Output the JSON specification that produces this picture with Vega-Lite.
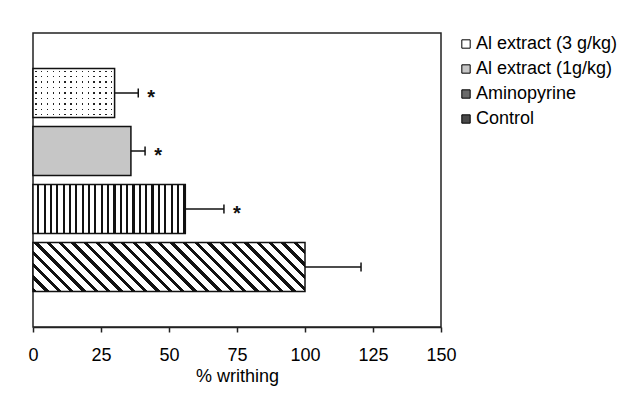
{
  "$schema": "https://vega.github.io/schema/vega-lite/v6.json",
  "width": 408,
  "height": 294,
  "autosize": {"type": "none"},
  "padding": {"left": 33, "top": 33, "right": 189, "bottom": 69},
  "background": "white",
  "config": {
    "font": "Liberation Sans",
    "view": {"stroke": "#222", "strokeWidth": 1.5},
    "axisX": {
      "grid": false, "domainColor": "#222", "domainWidth": 1.5, "tickColor": "#222", "tickWidth": 1.5, "tickSize": 5,
      "labelFontSize": 18, "labelFont": "Liberation Sans", "labelColor": "#000", "labelPadding": 14, "labelFlush": false,
      "titleFontSize": 18, "titleFont": "Liberation Sans", "titleFontWeight": "normal", "titleColor": "#000", "titlePadding": 3
    }
  },
  "data": {"values": [
    {"group": "Al extract (3 g/kg)", "mean": 30, "err": 38.7, "sig": "*"},
    {"group": "Al extract (1g/kg)", "mean": 36, "err": 41.2, "sig": "*"},
    {"group": "Aminopyrine", "mean": 56, "err": 70.2, "sig": "*"},
    {"group": "Control", "mean": 100, "err": 120.6, "sig": ""}
  ]},
  "encoding": {
    "y": {"field": "group", "type": "nominal", "sort": ["Al extract (3 g/kg)", "Al extract (1g/kg)", "Aminopyrine", "Control"], "scale": {"paddingInner": 0.155, "paddingOuter": 0.612}, "axis": null}
  },
  "layer": [
    {
      "mark": {"type": "bar", "strokeWidth": 0},
      "encoding": {
        "x": {"field": "mean", "type": "quantitative", "scale": {"domain": [0, 150], "nice": false}, "axis": {"values": [0, 25, 50, 75, 100, 125, 150]}, "title": "% writhing"},
        "fill": {"field": "group", "type": "nominal", "sort": ["Al extract (3 g/kg)", "Al extract (1g/kg)", "Aminopyrine", "Control"],
          "scale": {"domain": ["Al extract (3 g/kg)", "Al extract (1g/kg)", "Aminopyrine", "Control"], "range": ["#ffffff", "#c6c6c6", "#6a6a6a", "#4a4a4a"]},
          "legend": {"title": null, "orient": "none", "legendX": 424, "legendY": 2, "padding": 0, "symbolType": "square", "symbolSize": 70, "symbolStrokeColor": "#000", "symbolStrokeWidth": 1, "labelFontSize": 18, "labelFont": "Liberation Sans", "labelColor": "#000", "labelLimit": 220, "labelOffset": 1, "rowPadding": 7}}
      }
    },
    {
      "transform": [{"filter": "datum.group === 'Aminopyrine'"}],
      "mark": {"type": "bar", "strokeWidth": 0, "fill": {"gradient": "linear", "x1": 0, "y1": 0, "x2": 1, "y2": 0, "stops": [
        {"offset": 0, "color": "#fff"}, {"offset": 0.0279, "color": "#fff"}, {"offset": 0.0279, "color": "#111"}, {"offset": 0.0417, "color": "#111"},
        {"offset": 0.0417, "color": "#fff"}, {"offset": 0.0696, "color": "#fff"}, {"offset": 0.0696, "color": "#111"}, {"offset": 0.0833, "color": "#111"},
        {"offset": 0.0833, "color": "#fff"}, {"offset": 0.1113, "color": "#fff"}, {"offset": 0.1113, "color": "#111"}, {"offset": 0.125, "color": "#111"},
        {"offset": 0.125, "color": "#fff"}, {"offset": 0.1529, "color": "#fff"}, {"offset": 0.1529, "color": "#111"}, {"offset": 0.1667, "color": "#111"},
        {"offset": 0.1667, "color": "#fff"}, {"offset": 0.1946, "color": "#fff"}, {"offset": 0.1946, "color": "#111"}, {"offset": 0.2083, "color": "#111"},
        {"offset": 0.2083, "color": "#fff"}, {"offset": 0.2363, "color": "#fff"}, {"offset": 0.2363, "color": "#111"}, {"offset": 0.25, "color": "#111"},
        {"offset": 0.25, "color": "#fff"}, {"offset": 0.2779, "color": "#fff"}, {"offset": 0.2779, "color": "#111"}, {"offset": 0.2917, "color": "#111"},
        {"offset": 0.2917, "color": "#fff"}, {"offset": 0.3196, "color": "#fff"}, {"offset": 0.3196, "color": "#111"}, {"offset": 0.3333, "color": "#111"},
        {"offset": 0.3333, "color": "#fff"}, {"offset": 0.3613, "color": "#fff"}, {"offset": 0.3613, "color": "#111"}, {"offset": 0.375, "color": "#111"},
        {"offset": 0.375, "color": "#fff"}, {"offset": 0.4029, "color": "#fff"}, {"offset": 0.4029, "color": "#111"}, {"offset": 0.4167, "color": "#111"},
        {"offset": 0.4167, "color": "#fff"}, {"offset": 0.4446, "color": "#fff"}, {"offset": 0.4446, "color": "#111"}, {"offset": 0.4583, "color": "#111"},
        {"offset": 0.4583, "color": "#fff"}, {"offset": 0.4863, "color": "#fff"}, {"offset": 0.4863, "color": "#111"}, {"offset": 0.5, "color": "#111"},
        {"offset": 0.5, "color": "#fff"}, {"offset": 0.5279, "color": "#fff"}, {"offset": 0.5279, "color": "#111"}, {"offset": 0.5417, "color": "#111"},
        {"offset": 0.5417, "color": "#fff"}, {"offset": 0.5696, "color": "#fff"}, {"offset": 0.5696, "color": "#111"}, {"offset": 0.5833, "color": "#111"},
        {"offset": 0.5833, "color": "#fff"}, {"offset": 0.6113, "color": "#fff"}, {"offset": 0.6113, "color": "#111"}, {"offset": 0.625, "color": "#111"},
        {"offset": 0.625, "color": "#fff"}, {"offset": 0.6529, "color": "#fff"}, {"offset": 0.6529, "color": "#111"}, {"offset": 0.6667, "color": "#111"},
        {"offset": 0.6667, "color": "#fff"}, {"offset": 0.6946, "color": "#fff"}, {"offset": 0.6946, "color": "#111"}, {"offset": 0.7083, "color": "#111"},
        {"offset": 0.7083, "color": "#fff"}, {"offset": 0.7363, "color": "#fff"}, {"offset": 0.7363, "color": "#111"}, {"offset": 0.75, "color": "#111"},
        {"offset": 0.75, "color": "#fff"}, {"offset": 0.7779, "color": "#fff"}, {"offset": 0.7779, "color": "#111"}, {"offset": 0.7917, "color": "#111"},
        {"offset": 0.7917, "color": "#fff"}, {"offset": 0.8196, "color": "#fff"}, {"offset": 0.8196, "color": "#111"}, {"offset": 0.8333, "color": "#111"},
        {"offset": 0.8333, "color": "#fff"}, {"offset": 0.8613, "color": "#fff"}, {"offset": 0.8613, "color": "#111"}, {"offset": 0.875, "color": "#111"},
        {"offset": 0.875, "color": "#fff"}, {"offset": 0.9029, "color": "#fff"}, {"offset": 0.9029, "color": "#111"}, {"offset": 0.9167, "color": "#111"},
        {"offset": 0.9167, "color": "#fff"}, {"offset": 0.9446, "color": "#fff"}, {"offset": 0.9446, "color": "#111"}, {"offset": 0.9583, "color": "#111"},
        {"offset": 0.9583, "color": "#fff"}, {"offset": 0.9863, "color": "#fff"}, {"offset": 0.9863, "color": "#111"}, {"offset": 1, "color": "#111"}
      ]}},
      "encoding": {"x": {"field": "mean", "type": "quantitative", "axis": {"values": [0, 25, 50, 75, 100, 125, 150]}, "title": "% writhing"}}
    },
    {
      "transform": [{"filter": "datum.group === 'Control'"}],
      "mark": {"type": "bar", "strokeWidth": 0, "fill": {"gradient": "linear", "x1": 0, "y1": 1, "x2": 1.143, "y2": 0.7941, "stops": [
        {"offset": 0, "color": "#111"}, {"offset": 0.0135, "color": "#111"}, {"offset": 0.0135, "color": "#fff"}, {"offset": 0.0385, "color": "#fff"},
        {"offset": 0.0385, "color": "#111"}, {"offset": 0.0519, "color": "#111"}, {"offset": 0.0519, "color": "#fff"}, {"offset": 0.0769, "color": "#fff"},
        {"offset": 0.0769, "color": "#111"}, {"offset": 0.0904, "color": "#111"}, {"offset": 0.0904, "color": "#fff"}, {"offset": 0.1154, "color": "#fff"},
        {"offset": 0.1154, "color": "#111"}, {"offset": 0.1288, "color": "#111"}, {"offset": 0.1288, "color": "#fff"}, {"offset": 0.1538, "color": "#fff"},
        {"offset": 0.1538, "color": "#111"}, {"offset": 0.1673, "color": "#111"}, {"offset": 0.1673, "color": "#fff"}, {"offset": 0.1923, "color": "#fff"},
        {"offset": 0.1923, "color": "#111"}, {"offset": 0.2058, "color": "#111"}, {"offset": 0.2058, "color": "#fff"}, {"offset": 0.2308, "color": "#fff"},
        {"offset": 0.2308, "color": "#111"}, {"offset": 0.2442, "color": "#111"}, {"offset": 0.2442, "color": "#fff"}, {"offset": 0.2692, "color": "#fff"},
        {"offset": 0.2692, "color": "#111"}, {"offset": 0.2827, "color": "#111"}, {"offset": 0.2827, "color": "#fff"}, {"offset": 0.3077, "color": "#fff"},
        {"offset": 0.3077, "color": "#111"}, {"offset": 0.3212, "color": "#111"}, {"offset": 0.3212, "color": "#fff"}, {"offset": 0.3462, "color": "#fff"},
        {"offset": 0.3462, "color": "#111"}, {"offset": 0.3596, "color": "#111"}, {"offset": 0.3596, "color": "#fff"}, {"offset": 0.3846, "color": "#fff"},
        {"offset": 0.3846, "color": "#111"}, {"offset": 0.3981, "color": "#111"}, {"offset": 0.3981, "color": "#fff"}, {"offset": 0.4231, "color": "#fff"},
        {"offset": 0.4231, "color": "#111"}, {"offset": 0.4365, "color": "#111"}, {"offset": 0.4365, "color": "#fff"}, {"offset": 0.4615, "color": "#fff"},
        {"offset": 0.4615, "color": "#111"}, {"offset": 0.475, "color": "#111"}, {"offset": 0.475, "color": "#fff"}, {"offset": 0.5, "color": "#fff"},
        {"offset": 0.5, "color": "#111"}, {"offset": 0.5135, "color": "#111"}, {"offset": 0.5135, "color": "#fff"}, {"offset": 0.5385, "color": "#fff"},
        {"offset": 0.5385, "color": "#111"}, {"offset": 0.5519, "color": "#111"}, {"offset": 0.5519, "color": "#fff"}, {"offset": 0.5769, "color": "#fff"},
        {"offset": 0.5769, "color": "#111"}, {"offset": 0.5904, "color": "#111"}, {"offset": 0.5904, "color": "#fff"}, {"offset": 0.6154, "color": "#fff"},
        {"offset": 0.6154, "color": "#111"}, {"offset": 0.6288, "color": "#111"}, {"offset": 0.6288, "color": "#fff"}, {"offset": 0.6538, "color": "#fff"},
        {"offset": 0.6538, "color": "#111"}, {"offset": 0.6673, "color": "#111"}, {"offset": 0.6673, "color": "#fff"}, {"offset": 0.6923, "color": "#fff"},
        {"offset": 0.6923, "color": "#111"}, {"offset": 0.7058, "color": "#111"}, {"offset": 0.7058, "color": "#fff"}, {"offset": 0.7308, "color": "#fff"},
        {"offset": 0.7308, "color": "#111"}, {"offset": 0.7442, "color": "#111"}, {"offset": 0.7442, "color": "#fff"}, {"offset": 0.7692, "color": "#fff"},
        {"offset": 0.7692, "color": "#111"}, {"offset": 0.7827, "color": "#111"}, {"offset": 0.7827, "color": "#fff"}, {"offset": 0.8077, "color": "#fff"},
        {"offset": 0.8077, "color": "#111"}, {"offset": 0.8212, "color": "#111"}, {"offset": 0.8212, "color": "#fff"}, {"offset": 0.8462, "color": "#fff"},
        {"offset": 0.8462, "color": "#111"}, {"offset": 0.8596, "color": "#111"}, {"offset": 0.8596, "color": "#fff"}, {"offset": 0.8846, "color": "#fff"},
        {"offset": 0.8846, "color": "#111"}, {"offset": 0.8981, "color": "#111"}, {"offset": 0.8981, "color": "#fff"}, {"offset": 0.9231, "color": "#fff"},
        {"offset": 0.9231, "color": "#111"}, {"offset": 0.9365, "color": "#111"}, {"offset": 0.9365, "color": "#fff"}, {"offset": 0.9615, "color": "#fff"},
        {"offset": 0.9615, "color": "#111"}, {"offset": 0.975, "color": "#111"}, {"offset": 0.975, "color": "#fff"}, {"offset": 1, "color": "#fff"}
      ]}},
      "encoding": {"x": {"field": "mean", "type": "quantitative", "axis": {"values": [0, 25, 50, 75, 100, 125, 150]}, "title": "% writhing"}}
    },
    {
      "transform": [{"filter": "datum.group === 'Al extract (3 g/kg)'"}],
      "mark": {"type": "bar", "strokeWidth": 0, "fill": {"gradient": "linear", "x1": 0, "y1": 0, "x2": 0, "y2": 1, "stops": [
        {"offset": 0, "color": "#fff"}, {"offset": 0.0423, "color": "#fff"}, {"offset": 0.0423, "color": "#222"}, {"offset": 0.0689, "color": "#222"},
        {"offset": 0.0689, "color": "#fff"}, {"offset": 0.1534, "color": "#fff"}, {"offset": 0.1534, "color": "#222"}, {"offset": 0.18, "color": "#222"},
        {"offset": 0.18, "color": "#fff"}, {"offset": 0.2645, "color": "#fff"}, {"offset": 0.2645, "color": "#222"}, {"offset": 0.2911, "color": "#222"},
        {"offset": 0.2911, "color": "#fff"}, {"offset": 0.3756, "color": "#fff"}, {"offset": 0.3756, "color": "#222"}, {"offset": 0.4022, "color": "#222"},
        {"offset": 0.4022, "color": "#fff"}, {"offset": 0.4867, "color": "#fff"}, {"offset": 0.4867, "color": "#222"}, {"offset": 0.5133, "color": "#222"},
        {"offset": 0.5133, "color": "#fff"}, {"offset": 0.5978, "color": "#fff"}, {"offset": 0.5978, "color": "#222"}, {"offset": 0.6244, "color": "#222"},
        {"offset": 0.6244, "color": "#fff"}, {"offset": 0.7089, "color": "#fff"}, {"offset": 0.7089, "color": "#222"}, {"offset": 0.7355, "color": "#222"},
        {"offset": 0.7355, "color": "#fff"}, {"offset": 0.82, "color": "#fff"}, {"offset": 0.82, "color": "#222"}, {"offset": 0.8466, "color": "#222"},
        {"offset": 0.8466, "color": "#fff"}, {"offset": 0.9311, "color": "#fff"}, {"offset": 0.9311, "color": "#222"}, {"offset": 0.9577, "color": "#222"},
        {"offset": 0.9577, "color": "#fff"}, {"offset": 1, "color": "#fff"}
      ]}},
      "encoding": {"x": {"field": "mean", "type": "quantitative", "axis": {"values": [0, 25, 50, 75, 100, 125, 150]}, "title": "% writhing"}}
    },
    {
      "transform": [{"filter": "datum.group === 'Al extract (3 g/kg)'"}],
      "mark": {"type": "bar", "strokeWidth": 0, "fill": {"gradient": "linear", "x1": 0, "y1": 0, "x2": 1, "y2": 0, "stops": [
        {"offset": 0, "color": "#ffffff"}, {"offset": 0.0271, "color": "#ffffff"}, {"offset": 0.0271, "color": "rgba(255,255,255,0)"}, {"offset": 0.0443, "color": "rgba(255,255,255,0)"},
        {"offset": 0.0443, "color": "#ffffff"}, {"offset": 0.0985, "color": "#ffffff"}, {"offset": 0.0985, "color": "rgba(255,255,255,0)"}, {"offset": 0.1157, "color": "rgba(255,255,255,0)"},
        {"offset": 0.1157, "color": "#ffffff"}, {"offset": 0.17, "color": "#ffffff"}, {"offset": 0.17, "color": "rgba(255,255,255,0)"}, {"offset": 0.1872, "color": "rgba(255,255,255,0)"},
        {"offset": 0.1872, "color": "#ffffff"}, {"offset": 0.2414, "color": "#ffffff"}, {"offset": 0.2414, "color": "rgba(255,255,255,0)"}, {"offset": 0.2586, "color": "rgba(255,255,255,0)"},
        {"offset": 0.2586, "color": "#ffffff"}, {"offset": 0.3128, "color": "#ffffff"}, {"offset": 0.3128, "color": "rgba(255,255,255,0)"}, {"offset": 0.33, "color": "rgba(255,255,255,0)"},
        {"offset": 0.33, "color": "#ffffff"}, {"offset": 0.3843, "color": "#ffffff"}, {"offset": 0.3843, "color": "rgba(255,255,255,0)"}, {"offset": 0.4015, "color": "rgba(255,255,255,0)"},
        {"offset": 0.4015, "color": "#ffffff"}, {"offset": 0.4557, "color": "#ffffff"}, {"offset": 0.4557, "color": "rgba(255,255,255,0)"}, {"offset": 0.4729, "color": "rgba(255,255,255,0)"},
        {"offset": 0.4729, "color": "#ffffff"}, {"offset": 0.5271, "color": "#ffffff"}, {"offset": 0.5271, "color": "rgba(255,255,255,0)"}, {"offset": 0.5443, "color": "rgba(255,255,255,0)"},
        {"offset": 0.5443, "color": "#ffffff"}, {"offset": 0.5985, "color": "#ffffff"}, {"offset": 0.5985, "color": "rgba(255,255,255,0)"}, {"offset": 0.6157, "color": "rgba(255,255,255,0)"},
        {"offset": 0.6157, "color": "#ffffff"}, {"offset": 0.67, "color": "#ffffff"}, {"offset": 0.67, "color": "rgba(255,255,255,0)"}, {"offset": 0.6872, "color": "rgba(255,255,255,0)"},
        {"offset": 0.6872, "color": "#ffffff"}, {"offset": 0.7414, "color": "#ffffff"}, {"offset": 0.7414, "color": "rgba(255,255,255,0)"}, {"offset": 0.7586, "color": "rgba(255,255,255,0)"},
        {"offset": 0.7586, "color": "#ffffff"}, {"offset": 0.8128, "color": "#ffffff"}, {"offset": 0.8128, "color": "rgba(255,255,255,0)"}, {"offset": 0.83, "color": "rgba(255,255,255,0)"},
        {"offset": 0.83, "color": "#ffffff"}, {"offset": 0.8843, "color": "#ffffff"}, {"offset": 0.8843, "color": "rgba(255,255,255,0)"}, {"offset": 0.9015, "color": "rgba(255,255,255,0)"},
        {"offset": 0.9015, "color": "#ffffff"}, {"offset": 0.9557, "color": "#ffffff"}, {"offset": 0.9557, "color": "rgba(255,255,255,0)"}, {"offset": 0.9729, "color": "rgba(255,255,255,0)"},
        {"offset": 0.9729, "color": "#ffffff"}, {"offset": 1, "color": "#ffffff"}
      ]}},
      "encoding": {"x": {"field": "mean", "type": "quantitative", "axis": {"values": [0, 25, 50, 75, 100, 125, 150]}, "title": "% writhing"}}
    },
    {
      "mark": {"type": "bar", "fill": "transparent", "stroke": "#111", "strokeWidth": 1.5},
      "encoding": {"x": {"field": "mean", "type": "quantitative", "axis": {"values": [0, 25, 50, 75, 100, 125, 150]}, "title": "% writhing"}}
    },
    {
      "mark": {"type": "rule", "color": "#111", "strokeWidth": 1.5},
      "encoding": {
        "x": {"field": "mean", "type": "quantitative", "axis": {"values": [0, 25, 50, 75, 100, 125, 150]}, "title": "% writhing"},
        "x2": {"field": "err"}
      }
    },
    {
      "mark": {"type": "tick", "color": "#111", "thickness": 1.5, "size": 9, "opacity": 1},
      "encoding": {"x": {"field": "err", "type": "quantitative", "axis": {"values": [0, 25, 50, 75, 100, 125, 150]}, "title": "% writhing"}}
    },
    {
      "mark": {"type": "text", "dx": 13, "dy": 5, "fontSize": 20, "fontWeight": "bold", "align": "center", "baseline": "middle", "color": "#111"},
      "encoding": {
        "x": {"field": "err", "type": "quantitative", "axis": {"values": [0, 25, 50, 75, 100, 125, 150]}, "title": "% writhing"},
        "text": {"field": "sig"}
      }
    }
  ]
}
